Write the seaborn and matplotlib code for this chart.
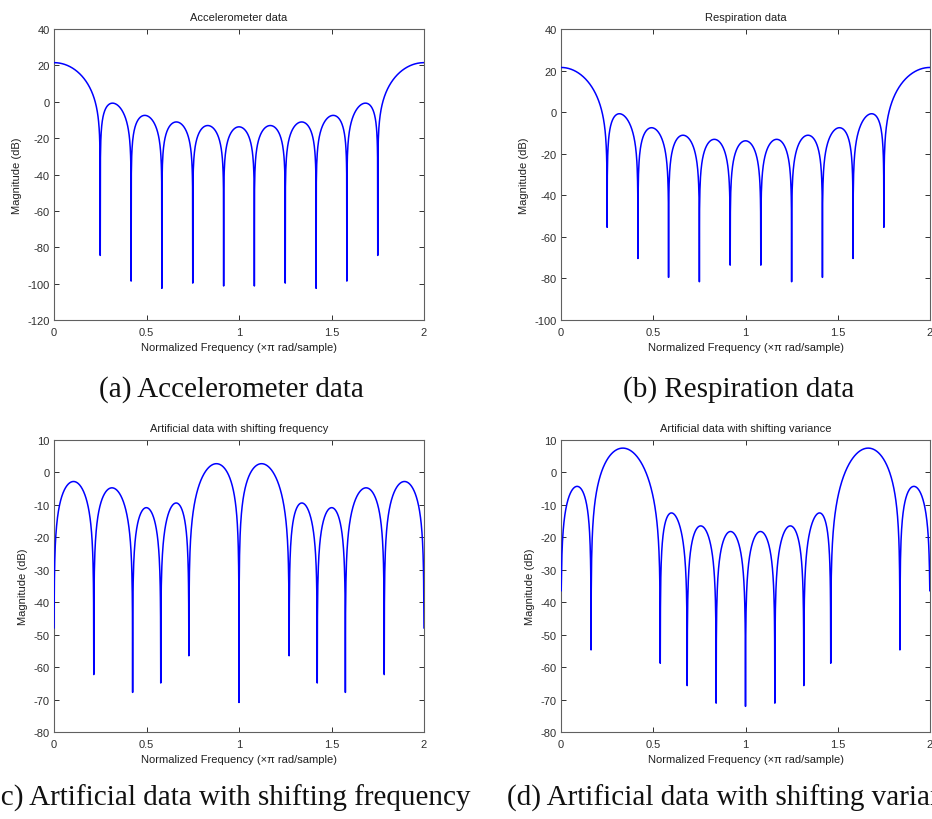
import numpy as np
import pandas as pd
import seaborn as sns
import matplotlib.pyplot as plt

# notch (zero) frequencies in units of pi rad/sample, depth of each notch in dB,
# and the highest lobe level in dB -- all read off the four panels
accel_notches = [0.25, 0.417, 0.583, 0.75, 0.917, 1.083, 1.25, 1.417, 1.583, 1.75]
accel_depths = [-84.5, -98.6, -102.6, -99.7, -101.3, -101.3, -99.7, -102.6, -98.6, -84.5]
accel_peak = 21.5

resp_notches = [0.25, 0.417, 0.583, 0.75, 0.917, 1.083, 1.25, 1.417, 1.583, 1.75]
resp_depths = [-55.4, -70.4, -79.5, -81.6, -73.6, -73.6, -81.6, -79.5, -70.4, -55.4]
resp_peak = 21.5

freq_notches = [0.0, 0.215, 0.425, 0.577, 0.729, 1.0, 1.271, 1.423, 1.575, 1.785]
freq_depths = [-48.0, -62.3, -67.8, -64.9, -56.5, -70.9, -56.5, -64.9, -67.8, -62.3]
freq_peak = 2.7

var_notches = [0.0, 0.163, 0.538, 0.684, 0.841, 1.0, 1.159, 1.316, 1.462, 1.837]
var_depths = [-36.5, -54.7, -58.8, -65.7, -71.1, -72.1, -71.1, -65.7, -58.8, -54.7]
var_peak = 7.5

titles = ['Accelerometer data', 'Respiration data',
          'Artificial data with shifting frequency', 'Artificial data with shifting variance']
captions = ['(a) Accelerometer data', '(b) Respiration data',
            '(c) Artificial data with shifting frequency', '(d) Artificial data with shifting variance']
y_ranges = [(-120, 40, 20), (-100, 40, 20), (-80, 10, 10), (-80, 10, 10)]
x_ticks = [0, 0.5, 1, 1.5, 2]
x_tick_labels = ['0', '0.5', '1', '1.5', '2']


def response(notches, depths, peak):
    # magnitude of the FIR polynomial whose zeros sit on the unit circle at the notches
    z = np.array(notches)
    f = np.union1d(np.linspace(0, 2, 2001), np.append(z, 2.0))
    mag = np.prod(np.abs(2 * np.sin(np.pi * (f[:, None] - z[None, :]) / 2)), axis=1)
    with np.errstate(divide='ignore'):
        db = 20 * np.log10(mag)
    db = db - db[np.isfinite(db)].max() + peak
    # finite notch depth as seen on the sampled plot
    for n, d in zip(notches, depths):
        dist = np.abs(((f - n + 1) % 2) - 1)
        near = dist < 0.01
        db[near] = np.maximum(db[near], d)
    return pd.DataFrame({'freq': f, 'db': db})


panels = [response(accel_notches, accel_depths, accel_peak),
          response(resp_notches, resp_depths, resp_peak),
          response(freq_notches, freq_depths, freq_peak),
          response(var_notches, var_depths, var_peak)]

sns.set_theme(style='ticks')
plt.rcParams['font.family'] = ['Liberation Sans', 'DejaVu Sans']
plt.rcParams['axes.unicode_minus'] = False

W, H = 932, 820
fig = plt.figure(figsize=(W / 100, H / 100), dpi=100)

# axes boxes in pixels: left, top, right, bottom
boxes = [(54, 30, 424, 321), (561, 30, 930, 321), (54, 441, 424, 733), (561, 441, 930, 733)]
caption_pos = [(231, 397), (739, 397), (231, 806), (739, 806)]

for i, df in enumerate(panels):
    l, t, r, b = boxes[i]
    ax = fig.add_axes([l / W, 1 - b / H, (r - l) / W, (b - t) / H])
    sns.lineplot(data=df, x='freq', y='db', ax=ax, color='#0000ff', linewidth=1.1,
                 estimator=None, sort=False, zorder=3)
    lo, hi, step = y_ranges[i]
    ax.set_xlim(0, 2)
    ax.set_ylim(lo, hi)
    ax.set_yticks(np.arange(lo, hi + 1, step))
    ax.set_xticks(x_ticks)
    ax.set_xticklabels(x_tick_labels)
    ax.tick_params(direction='in', length=3.5, width=0.7, colors='#303030', labelsize=8,
                   top=True, right=True, pad=3)
    ax.tick_params(axis='x', pad=5)
    for s in ax.spines.values():
        s.set_color('#606060')
        s.set_linewidth(0.8)
    ax.set_title(titles[i], fontsize=8, pad=6.5, color='#202020')
    ax.set_xlabel('Normalized Frequency (\u00d7\u03c0 rad/sample)', fontsize=8, labelpad=4, color='#202020')
    ax.set_ylabel('Magnitude (dB)', fontsize=8, labelpad=4, color='#202020')
    cx, cy = caption_pos[i]
    fig.text(cx / W, 1 - cy / H, captions[i], ha='center', va='baseline',
             fontfamily='Liberation Serif', fontsize=21, color='#111111')

fig.savefig('out.png', dpi=100)
